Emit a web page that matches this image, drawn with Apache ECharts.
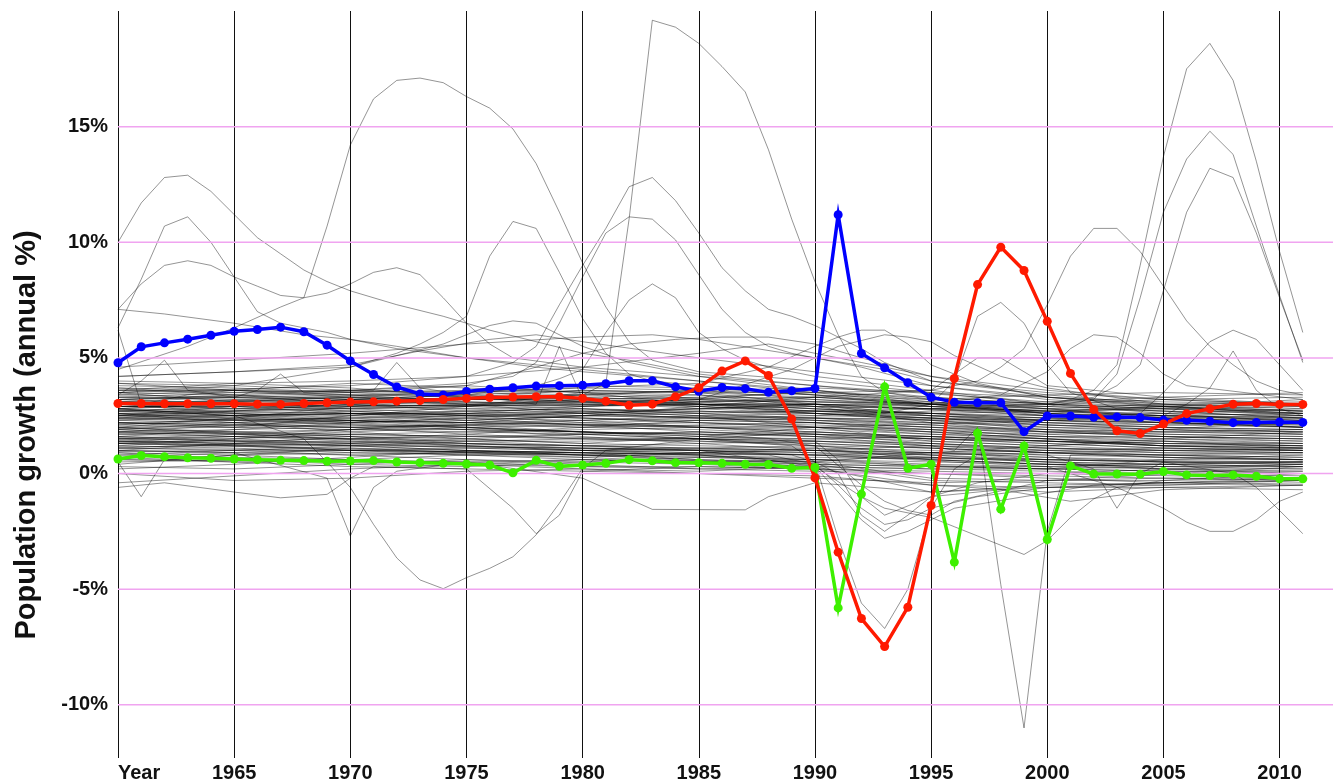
<!DOCTYPE html>
<html>
<head>
<meta charset="utf-8">
<script src="https://cdn.jsdelivr.net/npm/echarts@6/dist/echarts.min.js"></script>
<style>
  html, body { margin: 0; padding: 0; background: #fff; }
  #chart { width: 1333px; height: 783px; }
</style>
</head>
<body>
<div id="chart"></div>
<script>
// years of the highlighted series
var years = [1960,1961,1962,1963,1964,1965,1966,1967,1968,1969,
  1970,1971,1972,1973,1974,1975,1976,1977,1978,1979,
  1980,1981,1982,1983,1984,1985,1986,1987,1988,1989,
  1990,1991,1992,1993,1994,1995,1996,1997,1998,1999,
  2000,2001,2002,2003,2004,2005,2006,2007,2008,2009,
  2010,2011];

var blueValues = [4.79,5.48,5.65,5.81,5.98,6.15,6.23,6.33,6.13,5.55,
  4.87,4.28,3.74,3.44,3.40,3.55,3.65,3.71,3.78,3.80,
  3.82,3.88,4.01,4.01,3.75,3.56,3.72,3.67,3.51,3.58,
  3.68,11.19,5.19,4.57,3.93,3.30,3.08,3.06,3.06,1.81,
  2.49,2.49,2.43,2.45,2.42,2.31,2.30,2.26,2.20,2.21,
  2.23,2.21];

var redValues = [3.03,3.03,3.02,3.02,3.02,3.02,3.00,2.99,3.03,3.06,
  3.09,3.10,3.13,3.16,3.20,3.25,3.29,3.31,3.32,3.32,
  3.25,3.13,2.95,3.00,3.32,3.71,4.43,4.87,4.24,2.36,
  -0.18,-3.40,-6.27,-7.48,-5.78,-1.38,4.11,8.17,9.79,8.78,
  6.58,4.33,2.77,1.85,1.73,2.14,2.59,2.80,3.00,3.03,
  2.99,2.99];

var greenValues = [0.63,0.78,0.73,0.68,0.66,0.63,0.60,0.57,0.56,0.53,
  0.54,0.56,0.50,0.47,0.44,0.41,0.37,0.03,0.57,0.31,
  0.37,0.44,0.60,0.55,0.47,0.47,0.44,0.40,0.39,0.23,
  0.26,-5.81,-0.89,3.75,0.23,0.40,-3.83,1.74,-1.54,1.19,
  -2.85,0.33,-0.02,-0.02,-0.03,0.09,-0.06,-0.09,-0.06,-0.12,
  -0.23,-0.23];

// horizontal reference lines
var yGridValues = [-10, -5, 0, 5, 10, 15];

// the many grey countries: dense band read every five years
var bandYears = [1960,1965,1970,1975,1980,1985,1990,1995,2000,2005,2011];
var grayBand = [
  [3.9,3.8,3.6,3.4,3.6,3.5,3.3,3.0,2.8,2.7,2.6],
  [3.6,3.5,3.4,3.5,3.7,3.6,3.2,3.0,3.1,3.3,3.5],
  [3.4,3.3,3.3,3.2,3.3,3.4,3.1,2.9,3.0,3.2,3.3],
  [3.2,3.3,3.1,3.0,2.8,2.6,2.3,2.0,1.8,1.6,1.5],
  [3.0,3.1,3.2,3.1,3.0,3.0,2.9,2.8,2.7,2.8,2.9],
  [2.9,2.9,2.8,2.6,2.4,2.2,2.0,1.8,1.5,1.3,1.2],
  [2.8,2.7,2.6,2.5,2.4,2.3,2.2,2.0,1.9,1.7,1.6],
  [2.7,2.8,2.9,3.0,3.1,3.2,3.1,3.0,2.9,2.8,2.7],
  [2.6,2.6,2.5,2.3,2.1,2.0,1.9,1.7,1.5,1.2,1.1],
  [2.5,2.4,2.2,2.0,1.8,1.7,1.6,1.4,1.2,1.0,0.9],
  [2.4,2.5,2.6,2.6,2.7,2.8,2.9,2.8,2.6,2.5,2.4],
  [2.3,2.2,2.0,1.7,1.5,1.4,1.3,1.1,0.9,0.7,0.6],
  [2.2,2.3,2.4,2.6,2.9,3.0,2.8,2.6,2.3,2.2,2.1],
  [2.1,2.0,1.9,1.8,1.9,2.0,1.8,1.5,1.3,1.1,1.0],
  [2.0,2.1,2.2,2.3,2.5,2.6,2.7,2.5,2.3,2.1,2.0],
  [1.9,1.8,1.6,1.3,1.1,1.0,0.9,0.6,0.4,0.3,0.2],
  [1.8,1.9,2.0,2.1,2.2,2.3,2.4,2.3,2.2,2.0,1.9],
  [1.7,1.6,1.4,1.2,1.0,0.9,0.8,0.7,0.6,0.5,0.5],
  [1.6,1.5,1.3,1.1,1.0,0.8,0.4,-0.3,-0.4,-0.5,-0.4],
  [1.5,1.6,1.8,2.0,2.1,2.2,2.1,1.9,1.6,1.4,1.3],
  [1.4,1.3,1.2,1.0,0.9,0.8,0.5,-0.2,-0.3,-0.3,-0.2],
  [1.3,1.2,1.1,1.0,0.8,0.6,0.4,0.3,0.2,0.1,0.1],
  [1.2,1.1,0.9,0.8,0.7,0.5,0.4,0.3,0.3,0.4,0.5],
  [1.1,1.0,0.8,0.6,0.4,0.2,0.1,0.0,-0.1,-0.2,-0.3],
  [1.0,0.9,0.8,0.9,1.0,1.1,1.2,1.1,0.9,0.8,0.7],
  [0.9,0.8,0.6,0.5,0.3,0.2,0.3,0.2,0.1,0.0,-0.1],
  [0.8,0.7,0.6,0.4,0.3,0.3,0.2,-0.5,-0.8,-0.6,-0.5],
  [0.7,0.9,1.0,1.1,1.0,1.0,0.9,0.8,0.9,1.0,1.1],
  [0.5,0.6,0.5,0.4,0.2,0.1,0.3,0.2,0.2,0.3,0.4],
  [0.3,0.2,0.4,0.6,0.5,0.4,0.2,0.0,-0.2,-0.4,-0.5],
  [0.0,-0.3,-0.2,0.1,0.2,0.0,-0.1,-0.5,-0.6,-0.6,-0.7],
  [-0.4,-0.1,0.2,0.4,0.6,0.5,0.3,-0.8,-0.6,-0.4,-0.3],
  [3.7,3.6,3.5,3.3,3.1,2.9,2.7,2.6,2.5,2.6,2.8],
  [3.5,3.4,3.2,3.0,3.2,3.3,3.5,3.3,3.0,2.9,2.7],
  [3.3,3.2,3.0,2.9,2.7,2.5,2.4,2.2,2.1,2.0,1.9],
  [3.1,3.0,2.9,2.8,2.9,3.1,3.2,2.9,2.7,2.5,2.3],
  [2.9,2.8,2.7,2.5,2.2,2.0,1.8,1.6,1.4,1.2,1.1],
  [2.75,2.6,2.4,2.2,2.0,1.9,1.7,1.5,1.3,1.1,1.0],
  [2.55,2.5,2.6,2.7,2.8,2.7,2.5,2.4,2.2,2.0,1.8],
  [2.35,2.3,2.1,1.9,1.6,1.3,1.0,0.7,0.5,0.4,0.3],
  [2.15,2.2,2.3,2.2,2.1,2.0,2.0,1.9,1.8,1.7,1.6],
  [1.95,2.0,2.1,2.0,1.8,1.5,1.2,0.8,0.5,0.2,0.0],
  [1.75,1.7,1.5,1.3,1.2,1.3,1.4,1.3,1.1,0.9,0.8],
  [1.55,1.4,1.2,1.0,0.8,0.7,0.6,0.5,0.4,0.3,0.3],
  [1.35,1.4,1.5,1.6,1.7,1.8,1.7,1.5,1.4,1.3,1.3],
  [1.15,1.2,1.3,1.2,1.0,0.9,0.8,0.9,1.0,1.1,1.0],
  [0.95,1.0,1.0,0.8,0.6,0.5,0.6,0.7,0.5,0.4,0.3],
  [0.6,0.5,0.3,0.2,0.1,0.0,-0.2,-0.4,-0.3,-0.2,-0.2],
  [3.8,3.7,3.5,3.6,3.8,3.7,3.4,3.2,3.4,3.5,3.4],
  [2.0,2.4,2.9,3.2,3.3,3.1,2.8,2.5,2.3,2.2,2.1],
  [1.2,1.5,1.9,2.2,2.5,2.7,2.6,2.3,1.9,1.6,1.5],
  [2.6,2.2,1.8,1.5,1.3,1.2,1.1,1.0,0.8,0.7,0.6],
  [3.0,2.6,2.3,2.0,1.7,1.5,1.4,1.2,1.1,1.0,0.9],
  [1.8,2.1,2.3,2.5,2.6,2.8,3.0,2.9,2.7,2.6,2.5],
  [2.4,2.7,3.0,3.2,3.4,3.6,3.4,3.0,2.6,2.3,2.2],
  [3.6,3.9,3.7,3.3,3.0,3.2,3.6,3.1,2.6,2.9,3.2],
  [2.2,2.0,2.5,2.9,3.5,3.4,2.9,2.2,1.8,1.9,2.3],
  [1.0,1.3,1.6,1.5,1.3,1.6,2.0,1.4,1.2,1.5,1.8],
  [0.2,0.4,0.7,1.0,0.9,0.6,0.5,0.9,1.2,1.4,1.1],
  [2.8,3.1,3.3,3.0,2.6,2.4,2.5,2.7,2.8,2.4,2.0],
  [3.3,3.5,3.6,3.8,3.5,3.0,2.6,2.3,2.0,1.8,1.7],
  [1.6,1.9,2.2,2.4,2.3,2.0,1.7,1.3,1.0,0.8,0.9],
  [0.9,0.6,0.4,0.3,0.5,0.7,0.6,0.3,0.2,0.6,0.8],
  [2.5,2.9,2.6,2.3,2.5,2.9,3.3,3.1,2.8,3.0,3.1],
  [1.9,1.7,1.9,2.1,1.8,1.6,1.5,1.6,1.5,1.4,1.2],
  [3.0,2.8,3.0,3.3,3.6,3.5,3.0,2.5,2.2,2.1,2.2],
  [1.4,1.6,1.5,1.7,2.0,2.3,2.2,1.8,1.5,1.2,1.1],
  [2.7,2.5,2.2,2.4,2.7,2.5,2.0,1.7,1.6,1.6,1.5],
  [0.4,0.8,1.1,0.9,0.7,0.9,1.1,0.6,0.4,0.2,0.1],
  [3.5,3.1,2.8,2.9,3.2,3.0,2.7,2.6,2.7,2.9,3.0],
  [3.4,3.6,3.4,3.1,2.9,3.1,3.3,3.0,2.7,2.5,2.4],
  [2.9,3.0,3.1,3.3,3.4,3.2,2.9,2.6,2.4,2.3,2.4],
  [2.6,2.4,2.3,2.2,2.3,2.4,2.3,2.1,1.9,1.8,1.7],
  [2.3,2.5,2.7,2.8,2.6,2.4,2.2,1.9,1.6,1.5,1.4],
  [2.0,1.8,1.7,1.6,1.5,1.5,1.4,1.2,1.0,0.9,0.9],
  [1.7,1.8,1.9,1.9,1.8,1.7,1.7,1.6,1.4,1.2,1.2],
  [1.4,1.2,1.0,0.9,0.8,0.9,1.0,0.9,0.7,0.6,0.6],
  [1.1,1.3,1.4,1.3,1.2,1.0,0.8,0.6,0.4,0.4,0.5],
  [0.8,1.0,1.2,1.4,1.5,1.4,1.2,0.9,0.7,0.5,0.4],
  [3.2,3.0,2.7,2.5,2.6,2.8,3.0,2.8,2.5,2.4,2.5],
  [2.7,2.9,3.2,3.4,3.2,2.9,2.6,2.4,2.3,2.2,2.0],
  [2.4,2.3,2.4,2.5,2.4,2.2,2.0,1.8,1.7,1.8,1.9],
  [2.1,2.4,2.6,2.4,2.1,1.8,1.6,1.5,1.4,1.3,1.2],
  [1.8,1.6,1.5,1.4,1.4,1.5,1.5,1.3,1.1,1.0,1.0],
  [1.5,1.7,1.6,1.4,1.2,1.1,1.0,0.8,0.6,0.5,0.5],
  [3.7,3.4,3.0,2.7,2.5,2.4,2.3,2.2,2.0,1.9,1.8],
  [3.1,3.3,3.4,3.3,3.1,2.8,2.6,2.5,2.4,2.5,2.6],
  [2.5,2.7,2.8,2.9,3.0,2.9,2.7,2.4,2.1,1.9,1.7],
  [1.9,2.2,2.5,2.7,2.8,2.6,2.4,2.1,1.8,1.6,1.4],
  [1.3,1.5,1.7,1.8,1.7,1.5,1.3,1.1,0.9,0.8,0.7],
  [0.7,0.5,0.6,0.8,0.9,0.8,0.6,0.4,0.3,0.2,0.2],
  [3.9,3.6,3.3,3.2,3.4,3.6,3.7,3.5,3.3,3.1,3.0],
  [2.2,2.1,2.0,2.1,2.3,2.5,2.6,2.4,2.1,1.9,1.8],
  [1.6,1.4,1.3,1.5,1.7,1.8,1.6,1.2,0.9,0.7,0.6],
  [2.8,2.5,2.3,2.1,2.0,2.1,2.2,2.0,1.7,1.5,1.3]
];

// grey countries that leave the band, read year by year where they move
var grayOutliers = [
  [[1960,10.0],[1961,11.7],[1962,12.8],[1963,12.9],[1964,12.2],[1965,11.2],[1966,10.2],[1967,9.5],[1968,8.8],[1969,8.3],[1970,7.9],[1972,7.3],[1974,6.8],[1976,6.2],[1978,5.7],[1980,5.2],[1982,4.9],[1985,4.3],[1990,3.8],[1995,3.3],[2000,3.0],[2005,2.8],[2011,2.6]],
  [[1960,7.1],[1961,8.2],[1962,9.0],[1963,9.2],[1964,9.0],[1965,8.5],[1966,8.1],[1967,7.7],[1968,7.6],[1969,10.7],[1970,14.2],[1971,16.2],[1972,17.0],[1973,17.1],[1974,16.9],[1975,16.3],[1976,15.8],[1977,14.9],[1978,13.4],[1979,11.3],[1980,9.1],[1981,7.2],[1982,5.7],[1983,4.9],[1985,4.4],[1990,4.0],[1995,3.5],[2000,3.0],[2005,2.6],[2011,2.2]],
  [[1960,4.5],[1963,5.5],[1965,6.3],[1967,7.2],[1968,7.6],[1969,7.8],[1970,8.2],[1971,8.7],[1972,8.9],[1973,8.6],[1974,7.6],[1975,6.5],[1976,5.6],[1977,5.0],[1980,4.6],[1985,4.2],[1990,3.6],[1995,3.2],[2000,2.8],[2005,2.5],[2011,2.3]],
  [[1960,6.3],[1961,8.4],[1962,10.7],[1963,11.1],[1964,10.0],[1965,8.5],[1966,7.0],[1967,6.5],[1968,6.3],[1969,6.1],[1970,5.8],[1972,5.4],[1975,5.0],[1980,4.5],[1985,4.0],[1990,3.5],[1995,3.0],[2000,2.6],[2005,2.4],[2011,2.2]],
  [[1960,7.1],[1962,6.9],[1965,6.5],[1968,6.0],[1970,5.8],[1972,5.5],[1975,5.0],[1978,4.6],[1980,4.4],[1985,4.0],[1990,3.6],[1995,3.0],[2000,2.5],[2005,2.2],[2011,2.0]],
  [[1960,6.2],[1961,3.0],[1963,3.4],[1965,3.6],[1970,3.9],[1975,3.7],[1980,3.5],[1990,3.0],[2000,2.5],[2011,2.3]],
  [[1960,3.5],[1965,3.8],[1970,4.6],[1972,5.2],[1973,5.6],[1974,6.1],[1975,6.8],[1976,9.4],[1977,10.9],[1978,10.6],[1979,8.7],[1980,6.7],[1981,5.2],[1982,4.3],[1983,4.0],[1985,3.8],[1990,3.4],[1995,2.9],[2000,2.6],[2005,2.4],[2011,2.2]],
  [[1960,4.2],[1970,4.6],[1974,5.6],[1975,6.0],[1976,6.4],[1977,6.6],[1978,6.5],[1980,5.5],[1982,4.8],[1985,4.2],[1990,3.8],[2000,3.1],[2011,2.6]],
  [[1960,3.5],[1970,3.8],[1975,4.2],[1977,4.8],[1978,5.5],[1979,7.3],[1980,9.0],[1981,10.6],[1982,12.4],[1983,12.8],[1984,11.8],[1985,10.4],[1986,8.9],[1987,7.9],[1988,7.1],[1989,6.8],[1990,6.4],[1991,5.9],[1992,5.4],[1993,4.8],[1995,4.0],[2000,3.4],[2005,3.0],[2011,2.7]],
  [[1960,3.2],[1970,3.6],[1975,3.9],[1977,4.2],[1978,4.8],[1979,6.5],[1980,8.5],[1981,10.4],[1982,11.1],[1983,11.0],[1984,10.1],[1985,8.6],[1986,7.1],[1987,6.1],[1988,5.5],[1989,5.2],[1990,5.0],[1992,4.6],[1995,3.8],[2000,3.2],[2005,2.9],[2011,2.6]],
  [[1960,2.8],[1975,3.4],[1978,3.8],[1979,4.1],[1980,4.5],[1981,6.1],[1982,7.5],[1983,8.2],[1984,7.6],[1985,6.1],[1986,5.4],[1987,4.9],[1988,4.6],[1990,4.2],[1995,3.6],[2000,3.0],[2005,2.8],[2011,2.5]],
  [[1960,3.0],[1970,3.3],[1975,3.5],[1980,3.4],[1981,3.9],[1982,11.0],[1983,19.6],[1984,19.3],[1985,18.6],[1986,17.6],[1987,16.5],[1988,14.0],[1989,11.0],[1990,8.3],[1991,6.0],[1992,4.2],[1993,3.5],[1995,3.2],[2000,2.9],[2005,2.7],[2011,2.4]],
  [[1960,4.6],[1965,4.9],[1970,5.2],[1975,5.6],[1980,5.9],[1983,6.0],[1985,5.8],[1990,5.0],[1993,4.5],[1995,4.0],[2000,3.5],[2005,3.2],[2011,3.0]],
  [[1960,4.2],[1965,4.4],[1970,4.7],[1973,5.3],[1976,5.8],[1978,6.0],[1980,5.7],[1985,5.0],[1990,4.4],[1995,3.8],[2000,3.3],[2005,3.0],[2011,2.9]],
  [[1960,4.0],[1965,3.9],[1970,4.0],[1975,4.2],[1980,4.6],[1985,5.2],[1988,5.6],[1990,5.2],[1992,4.8],[1995,4.2],[2000,3.6],[2005,3.2],[2011,3.0]],
  [[1960,3.2],[1970,3.5],[1975,3.8],[1978,4.6],[1980,5.2],[1982,5.6],[1984,5.8],[1986,5.9],[1988,5.9],[1990,5.6],[1992,5.0],[1995,4.2],[2000,3.3],[2005,2.9],[2011,2.7]],
  [[1960,3.0],[1985,3.9],[1988,4.6],[1990,5.5],[1991,5.9],[1992,6.2],[1993,6.2],[1994,5.6],[1995,4.7],[1997,3.9],[2000,3.3],[2011,2.5]],
  [[1960,2.6],[1985,3.2],[1989,4.5],[1991,5.5],[1993,6.0],[1994,5.9],[1995,5.7],[1996,5.1],[1998,4.2],[2000,3.7],[2005,3.0],[2011,2.8]],
  [[1960,3.4],[1961,4.0],[1962,4.9],[1963,3.6],[1965,3.3],[1966,3.6],[1967,4.3],[1968,3.5],[1971,3.6],[1972,4.8],[1973,3.7],[1975,3.4],[1978,3.0],[1979,5.5],[1980,3.2],[1990,2.8],[2000,2.4],[2011,2.0]],
  [[1960,3.0],[1980,3.1],[1990,3.0],[1995,2.8],[2000,3.0],[2001,3.2],[2002,3.6],[2003,4.7],[2004,9.0],[2005,13.7],[2006,17.5],[2007,18.6],[2008,17.0],[2009,13.5],[2010,9.6],[2011,6.1]],
  [[1960,2.5],[1990,2.7],[2000,2.9],[2002,3.2],[2003,4.3],[2004,7.6],[2005,11.3],[2006,13.6],[2007,14.8],[2008,13.8],[2009,10.7],[2010,7.7],[2011,4.8]],
  [[1960,3.3],[1990,3.1],[2000,3.0],[2002,3.3],[2003,3.8],[2004,4.7],[2005,7.9],[2006,11.3],[2007,13.2],[2008,12.8],[2009,10.4],[2010,7.6],[2011,4.9]],
  [[1960,3.6],[1990,3.5],[1995,3.6],[1997,4.0],[1998,4.6],[1999,5.4],[2000,7.3],[2001,9.4],[2002,10.6],[2003,10.6],[2004,9.6],[2005,8.1],[2006,6.6],[2007,5.5],[2008,4.7],[2009,4.0],[2010,3.6],[2011,3.4]],
  [[1960,2.9],[1990,3.0],[1993,2.6],[1995,3.0],[1996,4.0],[1997,6.8],[1998,7.4],[1999,6.5],[2000,4.7],[2001,3.5],[2003,2.8],[2011,2.4]],
  [[1960,2.4],[1990,2.0],[2000,2.3],[2004,2.6],[2005,3.5],[2006,4.6],[2007,5.7],[2008,6.2],[2009,5.8],[2010,4.7],[2011,3.6]],
  [[1960,2.7],[2000,2.3],[2005,2.5],[2006,3.0],[2007,3.7],[2008,5.3],[2009,3.6],[2010,2.8],[2011,2.5]],
  [[1960,2.9],[1995,3.0],[1998,3.4],[2000,4.4],[2001,5.4],[2002,6.0],[2003,5.9],[2004,5.2],[2005,4.3],[2006,3.8],[2011,3.2]],
  [[1960,3.1],[1990,3.3],[1995,3.6],[1997,5.0],[1998,5.0],[1999,4.4],[2000,3.8],[2005,3.3],[2011,3.0]],
  [[1960,2.8],[1965,2.5],[1968,1.5],[1969,0.5],[1970,-0.6],[1971,-2.2],[1972,-3.65],[1973,-4.6],[1974,-4.98],[1975,-4.5],[1976,-4.1],[1977,-3.6],[1978,-2.65],[1979,-1.28],[1980,0.23],[1981,1.0],[1985,1.5],[1990,1.8],[1995,1.6],[2000,1.4],[2005,1.2],[2011,1.0]],
  [[1960,1.0],[1965,0.9],[1969,-0.2],[1970,-2.7],[1971,-0.6],[1972,0.1],[1975,0.5],[1980,0.6],[1990,0.5],[2000,0.2],[2011,0.0]],
  [[1960,0.5],[1961,-1.0],[1962,0.6],[1965,0.8],[1970,0.9],[1980,0.8],[1990,0.7],[2000,0.6],[2011,0.5]],
  [[1960,-0.6],[1962,-0.4],[1965,-0.8],[1967,-1.05],[1969,-0.9],[1970,-0.2],[1971,0.3],[1975,0.2],[1977,-1.5],[1978,-2.6],[1979,-1.8],[1980,0.1],[1985,0.3],[1990,0.2],[2000,0.0],[2011,-0.2]],
  [[1960,0.6],[1975,0.5],[1980,-0.2],[1983,-1.55],[1987,-1.57],[1988,-1.0],[1990,-0.4],[1995,-0.8],[2000,-0.5],[2011,-0.3]],
  [[1960,1.5],[1980,1.2],[1990,1.0],[1995,1.2],[1996,1.0],[1997,2.0],[1998,-4.8],[1999,-11.0],[2000,-2.5],[2001,0.8],[2005,0.8],[2011,0.6]],
  [[1960,1.8],[1985,1.5],[1989,1.2],[1990,0.5],[1991,-2.8],[1992,-5.6],[1993,-6.7],[1994,-5.0],[1995,-1.5],[1996,0.2],[1997,0.8],[2000,0.6],[2005,0.5],[2011,0.4]],
  [[1960,1.4],[1985,1.0],[1990,0.3],[1992,-1.0],[1993,-1.5],[1995,-1.9],[1996,-2.3],[1997,-2.7],[1998,-3.1],[1999,-3.5],[2000,-2.9],[2001,-1.9],[2002,-1.1],[2003,-0.6],[2005,-0.3],[2011,0.0]],
  [[1960,1.1],[1990,0.8],[2000,0.3],[2002,-0.3],[2003,-0.6],[2005,-1.5],[2006,-2.1],[2007,-2.5],[2008,-2.5],[2009,-2.0],[2010,-1.2],[2011,-0.8]],
  [[1960,1.3],[1990,1.0],[2000,0.8],[2002,0.2],[2003,-1.5],[2004,0.0],[2005,0.5],[2008,0.0],[2009,-0.6],[2010,-1.6],[2011,-2.6]],
  [[1960,1.5],[1970,1.0],[1980,0.9],[1988,0.8],[1990,0.4],[1991,-0.5],[1992,-1.5],[1993,-2.2],[1994,-2.0],[1995,-1.5],[1997,-1.0],[2000,-0.6],[2005,-0.5],[2011,-0.3]],
  [[1960,2.0],[1975,1.2],[1985,1.0],[1989,0.8],[1990,0.5],[1991,0.0],[1992,-1.8],[1993,-2.5],[1994,-1.8],[1995,-1.0],[1998,-0.7],[2001,-1.2],[2005,-0.7],[2011,-0.5]],
  [[1960,1.3],[1980,0.8],[1990,0.3],[1991,-0.8],[1992,-2.0],[1993,-2.8],[1994,-2.5],[1995,-2.0],[1996,-1.5],[1999,-1.0],[2002,-0.5],[2011,-0.2]],
  [[1960,2.5],[1980,1.8],[1988,1.5],[1990,1.2],[1992,-0.5],[1993,-1.2],[1994,-1.6],[1995,-1.8],[1996,-1.2],[2000,-0.3],[2011,0.3]],
  [[1960,2.2],[1985,1.7],[1990,1.4],[1991,0.6],[1992,-1.0],[1993,-1.8],[1995,-1.0],[1997,-0.4],[2000,0.0],[2011,0.4]]
];

var xMin = 1960, xMax = 2012.3;

var chart = echarts.init(document.getElementById('chart'));

var grayStyle = { color: 'rgba(0,0,0,0.42)', width: 1 };
var series = [];

grayBand.forEach(function (row) {
  series.push({
    type: 'line', silent: true, symbol: 'none', lineStyle: grayStyle,
    data: row.map(function (v, i) { return [bandYears[i], v]; })
  });
});
grayOutliers.forEach(function (pts) {
  series.push({ type: 'line', silent: true, symbol: 'none', lineStyle: grayStyle, data: pts });
});

// pink horizontal reference lines, over the grey countries
yGridValues.forEach(function (v) {
  series.push({
    type: 'line', silent: true, symbol: 'none', z: 3,
    lineStyle: { color: '#f0a4f0', width: 1.5 },
    data: [[xMin, v], [xMax, v]]
  });
});

function mainLine (values, color) {
  return {
    type: 'line',
    symbol: 'circle',
    symbolSize: 9,
    z: 5,
    itemStyle: { color: color },
    lineStyle: { color: color, width: 3.5, join: 'miter', miterLimit: 10 },
    data: years.map(function (y, i) { return [y, values[i]]; })
  };
}
series.push(mainLine(blueValues, '#0000ff'));
series.push(mainLine(greenValues, '#3ef000'));
series.push(mainLine(redValues, '#ff1a00'));

var labelFont = { fontFamily: 'Liberation Sans, Arial, sans-serif', fontWeight: 'bold', fontSize: 20, color: '#111' };

var option = {
  animation: false,
  grid: { left: 118, right: 0, top: 11, bottom: 23 },
  xAxis: {
    type: 'value',
    min: xMin,
    max: xMax,
    interval: 5,
    axisLine: { show: false },
    axisTick: { show: false },
    splitLine: { show: true, showMaxLine: false, lineStyle: { color: '#111', width: 1 } },
    axisLabel: Object.assign({
      margin: 5,
      showMaxLabel: false,
      alignMinLabel: 'left',
      formatter: function (v) { return v === 1960 ? 'Year' : String(v); }
    }, labelFont)
  },
  yAxis: {
    type: 'value',
    min: -12.3,
    max: 20,
    splitNumber: 6,
    axisLine: { show: false },
    axisTick: { show: false },
    splitLine: { show: false },
    axisLabel: Object.assign({
      margin: 10,
      showMinLabel: false,
      showMaxLabel: false,
      formatter: function (v) { return v + '%'; }
    }, labelFont)
  },
  graphic: [{
    type: 'text',
    x: 27,
    y: 435,
    rotation: Math.PI / 2,
    style: {
      text: 'Population growth (annual %)',
      fontFamily: 'Liberation Sans, Arial, sans-serif',
      fontWeight: 'bold',
      fontSize: 29,
      fill: '#111',
      align: 'center',
      verticalAlign: 'middle'
    }
  }],
  series: series
};
chart.setOption(option);
</script>
</body>
</html>
